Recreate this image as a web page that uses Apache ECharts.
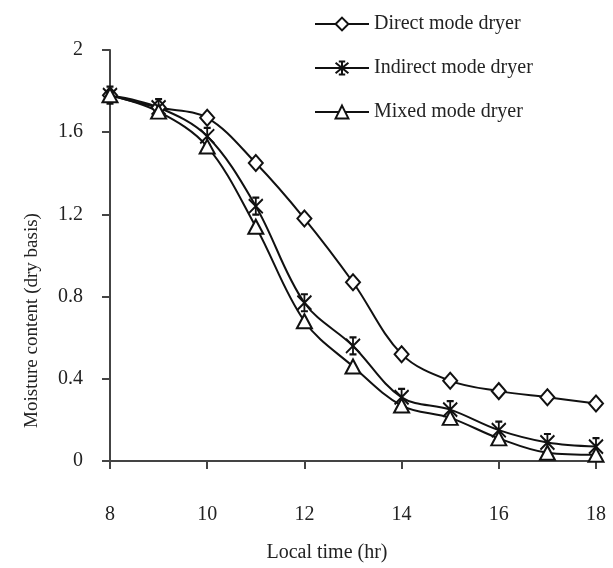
<!DOCTYPE html>
<html>
<head>
<meta charset="utf-8">
<script src="https://cdn.jsdelivr.net/npm/echarts@6/dist/echarts.min.js"></script>
<style>
  html, body { margin: 0; padding: 0; background: #fff; }
  #chart { width: 613px; height: 568px; }
</style>
</head>
<body>
<div id="chart"></div>
<script>
// hours of the day
const hours = [8, 9, 10, 11, 12, 13, 14, 15, 16, 17, 18]
// moisture content (dry basis)
const directMode = [1.78, 1.72, 1.67, 1.45, 1.18, 0.87, 0.52, 0.39, 0.34, 0.31, 0.28]
const indirectMode = [1.78, 1.72, 1.58, 1.24, 0.77, 0.56, 0.31, 0.25, 0.15, 0.09, 0.07]
const mixedMode = [1.78, 1.70, 1.53, 1.14, 0.68, 0.46, 0.27, 0.21, 0.11, 0.04, 0.03]
const seriesNames = ['Direct mode dryer', 'Indirect mode dryer', 'Mixed mode dryer']

const font = '"Liberation Serif", "Times New Roman", serif'
const ink = '#111'

// asterisk-like star marker (X plus vertical bar)
const starPath = 'path://M-1,-1 L1,1 M-1,1 L1,-1 M0,-1.2 L0,1.2 M-0.5,-1.2 L0.5,-1.2 M-0.5,1.2 L0.5,1.2'

const pairs = ys => hours.map((h, i) => [h, ys[i]])

const makeSeries = (name, ys, symbol, size) => ({
  name,
  type: 'line',
  data: pairs(ys),
  smooth: 0.35,
  symbol,
  symbolSize: size,
  showAllSymbol: true,
  lineStyle: { color: ink, width: 2 },
  itemStyle: { color: '#fff', borderColor: ink, borderWidth: 2 },
  emphasis: { disabled: true }
})

const chart = echarts.init(document.getElementById('chart'))
chart.setOption({
  animation: false,
  backgroundColor: '#fff',
  textStyle: { fontFamily: font, color: '#222' },
  legend: {
    orient: 'vertical',
    left: 309,
    top: 9,
    itemWidth: 54,
    itemHeight: 16,
    itemGap: 24,
    textStyle: { fontFamily: font, fontSize: 20, color: '#222' },
    data: seriesNames
  },
  grid: { left: 110, right: 17, top: 50, bottom: 105 },
  xAxis: {
    type: 'value',
    min: 8,
    max: 18,
    interval: 2,
    name: 'Local time (hr)',
    nameLocation: 'middle',
    nameGap: 82,
    nameTextStyle: { fontFamily: font, fontSize: 20, color: '#222', padding: [0, 52, 0, 0] },
    axisLine: { lineStyle: { color: '#444', width: 2 } },
    axisTick: { length: 8, lineStyle: { color: '#444', width: 2 } },
    axisLabel: { margin: 44, fontFamily: font, fontSize: 20, color: '#222' },
    splitLine: { show: false }
  },
  yAxis: {
    type: 'value',
    min: 0,
    max: 2,
    interval: 0.4,
    name: 'Moisture content (dry basis)',
    nameLocation: 'middle',
    nameGap: 68,
    nameTextStyle: { fontFamily: font, fontSize: 19, color: '#222', padding: [0, 130, 0, 0] },
    axisLine: { show: true, lineStyle: { color: '#444', width: 2 } },
    axisTick: { show: true, length: 8, lineStyle: { color: '#444', width: 2 } },
    axisLabel: { margin: 27, fontFamily: font, fontSize: 20, color: '#222' },
    splitLine: { show: false }
  },
  series: [
    makeSeries(seriesNames[0], directMode, 'diamond', [14, 16]),
    makeSeries(seriesNames[1], indirectMode, starPath, [14, 17]),
    makeSeries(seriesNames[2], mixedMode, 'triangle', [15, 14])
  ]
})
</script>
</body>
</html>
